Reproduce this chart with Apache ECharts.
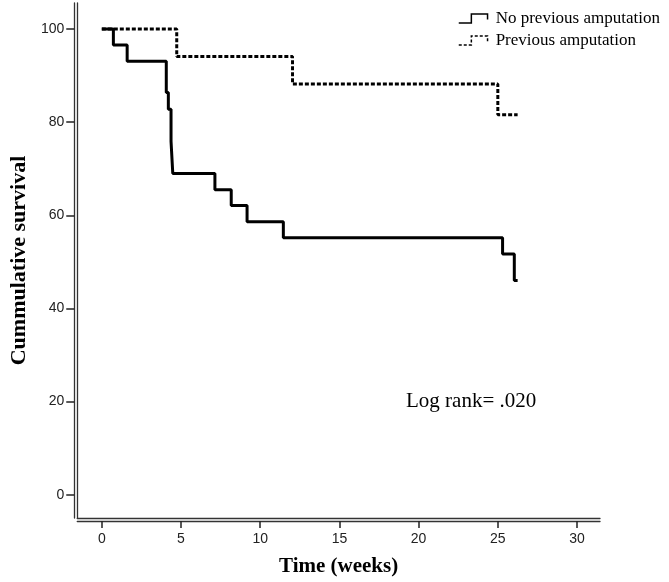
<!DOCTYPE html>
<html>
<head>
<meta charset="utf-8">
<script src="https://cdn.jsdelivr.net/npm/echarts@6/dist/echarts.min.js"></script>
<style>
html,body{margin:0;padding:0;background:#fff;}
#chart{width:669px;height:582px;}
</style>
</head>
<body>
<div id="chart"></div>
<script>
// ---- data ----
const seriesNames = ['No previous amputation', 'Previous amputation'];
const noPrevTimes    = [0, 0.73, 1.6, 4.07, 4.2, 4.37, 4.48, 7.14, 8.17, 9.17, 11.46, 25.3, 26.04, 26.25];
const noPrevSurvival = [100, 96.6, 93.1, 86.4, 82.8, 75.9, 69.0, 65.5, 62.1, 58.6, 55.2, 51.7, 46.0, 46.0];
const prevTimes      = [0, 4.73, 12.04, 25.0, 26.25];
const prevSurvival   = [100, 94.1, 88.2, 81.6, 81.6];
const xTicks = [0, 5, 10, 15, 20, 25, 30];
const yTicks = [0, 20, 40, 60, 80, 100];
const xTitle = 'Time (weeks)';
const yTitle = 'Cummulative survival';
const annotation = 'Log rank= .020';

const pair = (xs, ys) => xs.map((x, i) => [x, ys[i]]);

const XMIN = -1.55, XMAX = 31.45, YMIN = -5, YMAX = 105.6;
const axisColor = '#333';
const serif = '"Liberation Serif", "Times New Roman", serif';
const sans = '"Liberation Sans", Arial, sans-serif';

const chart = echarts.init(document.getElementById('chart'), null, {renderer: 'canvas'});
chart.setOption({
  animation: false,
  backgroundColor: '#fff',
  grid: {left: 72, right: 69, top: 3, bottom: 64, containLabel: false},
  legend: {
    orient: 'vertical',
    left: 453,
    top: 5,
    itemWidth: 35,
    itemHeight: 9,
    itemGap: 5,
    textStyle: {fontFamily: serif, fontSize: 17, color: '#000'},
    data: [
      {name: seriesNames[0], icon: 'path://M0,10L14,10L14,0L32,0L32,6',
       itemStyle: {color: 'transparent', borderColor: '#000', borderWidth: 1.5}},
      {name: seriesNames[1], icon: 'path://M0,10L14,10L14,0L32,0L32,6',
       itemStyle: {color: 'transparent', borderColor: '#000', borderWidth: 1.5, borderType: [3, 2]}}
    ]
  },
  xAxis: [
    {
      type: 'value', min: XMIN, max: XMAX, position: 'bottom',
      axisLine: {show: true, onZero: false, lineStyle: {color: axisColor, width: 1.3}},
      axisTick: {show: false}, axisLabel: {show: false}, splitLine: {show: false}
    },
    {
      type: 'value', min: XMIN, max: XMAX, position: 'bottom', offset: 3,
      axisLine: {show: true, onZero: false, lineStyle: {color: axisColor, width: 1.3}},
      axisTick: {show: true, inside: false, length: 7, customValues: xTicks, lineStyle: {color: '#222', width: 1.5}},
      axisLabel: {show: true, margin: 11, customValues: xTicks, fontFamily: sans, fontSize: 14, color: '#222'},
      splitLine: {show: false},
      name: xTitle, nameLocation: 'middle', nameGap: 35,
      nameTextStyle: {fontFamily: serif, fontSize: 21, fontWeight: 'bold', color: '#000'}
    }
  ],
  yAxis: [
    {
      type: 'value', min: YMIN, max: YMAX, position: 'left',
      axisLine: {show: true, onZero: false, lineStyle: {color: axisColor, width: 1.3}},
      axisTick: {show: false}, axisLabel: {show: false}, splitLine: {show: false}
    },
    {
      type: 'value', min: YMIN, max: YMAX, position: 'left', offset: 3,
      axisLine: {show: true, onZero: false, lineStyle: {color: axisColor, width: 1.3}},
      axisTick: {show: true, inside: false, length: 8, customValues: yTicks, lineStyle: {color: '#222', width: 1.5}},
      axisLabel: {show: true, margin: 10, customValues: yTicks, fontFamily: sans, fontSize: 14, color: '#222'},
      splitLine: {show: false},
      name: yTitle, nameLocation: 'middle', nameGap: 25, nameRotate: 90,
      nameTextStyle: {fontFamily: serif, fontSize: 22, fontWeight: 'bold', color: '#000'}
    }
  ],
  graphic: [
    {type: 'text', left: 406, top: 391,
     style: {text: annotation, font: '21px ' + serif, fill: '#000'}}
  ],
  series: [
    {
      name: seriesNames[0], type: 'line', step: 'end', xAxisIndex: 0, yAxisIndex: 0,
      showSymbol: false, symbol: 'none',
      data: pair(noPrevTimes, noPrevSurvival),
      lineStyle: {color: '#000', width: 3, type: 'solid'},
      itemStyle: {color: '#000'}
    },
    {
      name: seriesNames[1], type: 'line', step: 'end', xAxisIndex: 0, yAxisIndex: 0,
      showSymbol: false, symbol: 'none',
      data: pair(prevTimes, prevSurvival),
      lineStyle: {color: '#000', width: 3, type: [4, 2]},
      itemStyle: {color: '#000'}
    }
  ]
});
</script>
</body>
</html>
